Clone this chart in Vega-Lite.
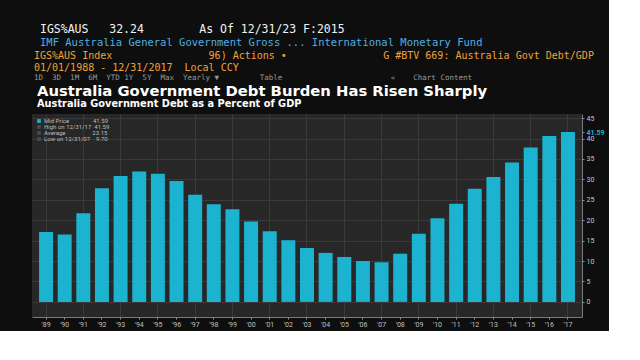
{
  "$schema": "https://vega.github.io/schema/vega-lite/v6.json",
  "background": "#0e0e0e",
  "padding": {"left": 32, "top": 23, "right": 4, "bottom": 4},
  "title": {
    "text": "IGS%AUS\u00a0\u00a0\u00a032.24\u00a0\u00a0\u00a0\u00a0\u00a0\u00a0\u00a0\u00a0As Of 12/31/23\u00a0F:2015",
    "subtitle": "IMF Australia General Government Gross ... International Monetary Fund",
    "anchor": "start",
    "dx": 8,
    "font": "DejaVu Sans Mono",
    "fontSize": 11.5,
    "fontWeight": "normal",
    "color": "#f2f2f2",
    "subtitleFont": "DejaVu Sans Mono",
    "subtitleFontSize": 10.5,
    "subtitleColor": "#4fb0e6",
    "subtitlePadding": 3,
    "offset": 2
  },
  "vconcat": [
    {
      "title": {
        "text": ["IGS%AUS Index\u00a0\u00a0\u00a0\u00a0\u00a0\u00a0\u00a0\u00a0\u00a0\u00a0\u00a0\u00a0\u00a0\u00a0\u00a0\u00a096) Actions \u2022\u00a0\u00a0\u00a0\u00a0\u00a0\u00a0\u00a0\u00a0\u00a0\u00a0\u00a0\u00a0\u00a0\u00a0\u00a0\u00a0G #BTV 669: Australia Govt Debt/GDP", "01/01/1988 - 12/31/2017\u00a0\u00a0Local CCY"],
        "subtitle": "1D\u00a0\u00a03D\u00a0\u00a01M\u00a0\u00a06M\u00a0\u00a0YTD\u00a01Y\u00a0\u00a05Y\u00a0\u00a0Max\u00a0\u00a0Yearly \u25bc\u00a0\u00a0\u00a0\u00a0\u00a0\u00a0\u00a0\u00a0\u00a0Table\u00a0\u00a0\u00a0\u00a0\u00a0\u00a0\u00a0\u00a0\u00a0\u00a0\u00a0\u00a0\u00a0\u00a0\u00a0\u00a0\u00a0\u00a0\u00a0\u00a0\u00a0\u00a0\u00a0\u00a0\u00ab\u00a0\u00a0\u00a0\u00a0Chart Content",
        "anchor": "start",
        "dx": 2,
        "font": "DejaVu Sans Mono",
        "fontSize": 10,
        "fontWeight": "normal",
        "color": "#f0a23a",
        "lineHeight": 12,
        "subtitleFont": "DejaVu Sans Mono",
        "subtitleFontSize": 7.5,
        "subtitleColor": "#9a9a9a",
        "subtitlePadding": 1,
        "offset": 3
      },
      "vconcat": [
        {
          "title": {
            "text": "Australia Government Debt Burden Has Risen Sharply",
            "subtitle": "Australia Government Debt as a Percent of GDP",
            "anchor": "start",
            "dx": 5,
            "font": "DejaVu Sans",
            "fontSize": 14.8,
            "fontWeight": "bold",
            "color": "#ffffff",
            "subtitleFont": "DejaVu Sans",
            "subtitleFontSize": 9.8,
            "subtitleFontWeight": "bold",
            "subtitleColor": "#ffffff",
            "subtitlePadding": 0,
            "offset": 5
          },
          "width": 550,
          "height": 203,
          "data": {
            "values": [
              {"year": "1989", "debt": 17.1},
              {"year": "1990", "debt": 16.5},
              {"year": "1991", "debt": 21.7},
              {"year": "1992", "debt": 27.8},
              {"year": "1993", "debt": 30.8},
              {"year": "1994", "debt": 31.9},
              {"year": "1995", "debt": 31.4},
              {"year": "1996", "debt": 29.6},
              {"year": "1997", "debt": 26.2},
              {"year": "1998", "debt": 23.9},
              {"year": "1999", "debt": 22.7},
              {"year": "2000", "debt": 19.7},
              {"year": "2001", "debt": 17.3},
              {"year": "2002", "debt": 15.1},
              {"year": "2003", "debt": 13.2},
              {"year": "2004", "debt": 12.0},
              {"year": "2005", "debt": 11.0},
              {"year": "2006", "debt": 10.0},
              {"year": "2007", "debt": 9.70},
              {"year": "2008", "debt": 11.8},
              {"year": "2009", "debt": 16.7},
              {"year": "2010", "debt": 20.5},
              {"year": "2011", "debt": 24.0},
              {"year": "2012", "debt": 27.7},
              {"year": "2013", "debt": 30.6},
              {"year": "2014", "debt": 34.1},
              {"year": "2015", "debt": 37.8},
              {"year": "2016", "debt": 40.6},
              {"year": "2017", "debt": 41.59}
            ]
          },
          "mark": {"type": "bar"},
          "encoding": {
            "x": {
              "field": "year",
              "type": "ordinal",
              "scale": {"paddingInner": 0.25, "paddingOuter": 0.378},
              "axis": {
                "title": null,
                "labelAngle": 0,
                "labelExpr": "\"'\" + slice(datum.label, 2)",
                "bandPosition": 0.5,
                "labelPadding": 1,
                "grid": true,
                "gridOpacity": {"condition": {"test": "toNumber(datum.value) % 2 == 0", "value": 0}, "value": 1}
              }
            },
            "y": {
              "field": "debt",
              "type": "quantitative",
              "scale": {"domain": [-3.7, 46], "nice": false, "zero": false},
              "axis": {
                "orient": "right",
                "title": null,
                "values": [0, 5, 10, 15, 20, 25, 30, 35, 40, 41.59, 45],
                "labelExpr": "datum.value == 41.59 ? '41.59' : format(datum.value, 'd')",
                "labelOverlap": false,
                "labelPadding": 2,
                "grid": true,
                "gridOpacity": {"condition": {"test": "datum.value == 41.59", "value": 0}, "value": 1},
                "labelColor": {"condition": {"test": "datum.value == 41.59", "value": "#1db4d2"}, "value": "#c8c8c8"},
                "labelFontWeight": {"condition": {"test": "datum.value == 41.59", "value": "bold"}, "value": "normal"}
              }
            },
            "y2": {"datum": 0},
            "color": {
              "datum": "Mid Price\u00a0\u00a0\u00a0\u00a0\u00a0\u00a0\u00a0\u00a0\u00a0\u00a0\u00a0\u00a0\u00a0\u00a0\u00a0\u00a041.59",
              "type": "nominal",
              "scale": {
                "domain": [
                  "Mid Price\u00a0\u00a0\u00a0\u00a0\u00a0\u00a0\u00a0\u00a0\u00a0\u00a0\u00a0\u00a0\u00a0\u00a0\u00a0\u00a041.59",
                  "High on 12/31/17\u00a0\u00a041.59",
                  "Average\u00a0\u00a0\u00a0\u00a0\u00a0\u00a0\u00a0\u00a0\u00a0\u00a0\u00a0\u00a0\u00a0\u00a0\u00a0\u00a0\u00a0\u00a023.15",
                  "Low on 12/31/07\u00a0\u00a0\u00a0\u00a09.70"
                ],
                "range": ["#1cb3d0", "#4a4a4a", "#4a4a4a", "#4a4a4a"]
              },
              "legend": {
                "title": null,
                "orient": "top-left",
                "offset": 4,
                "padding": 0,
                "labelFont": "Roboto",
                "labelFontSize": 6,
                "labelColor": "#bdbdbd",
                "symbolType": "square",
                "symbolSize": 14,
                "symbolOffset": 0,
                "rowPadding": 0,
                "labelOffset": 2
              }
            }
          }
        }
      ]
    }
  ],
  "config": {
    "view": {"fill": "#272727", "stroke": null},
    "axis": {
      "gridColor": "#3a3a3a",
      "gridWidth": 1,
      "domainColor": "#7a7a7a",
      "tickColor": "#9a9a9a",
      "labelColor": "#c0c0c0",
      "labelFont": "Roboto",
      "labelFontSize": 7,
      "tickSize": 2
    }
  }
}
